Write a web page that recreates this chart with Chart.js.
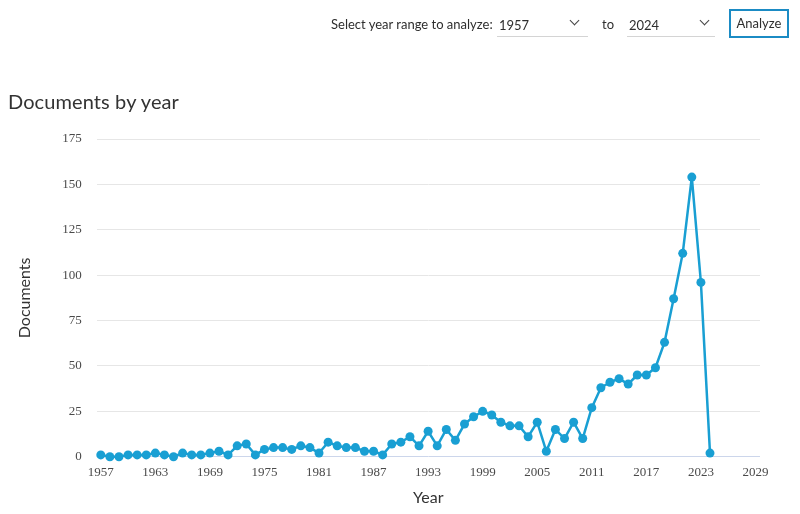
<!DOCTYPE html>
<html>
<head>
<meta charset="utf-8">
<script src="https://cdn.jsdelivr.net/npm/chart.js@4/dist/chart.umd.min.js"></script>
<style>
  html, body { margin: 0; padding: 0; background: #fff; }
  body { width: 800px; height: 514px; position: relative; overflow: hidden; font-family: Lato, "Open Sans", sans-serif; }
  #wrap { position: absolute; left: 0; top: 0; width: 800px; height: 514px; }
  #title { position: absolute; left: 8px; top: 89px; font-size: 20px; color: #333; letter-spacing: 0.1px; }
  .ctl { position: absolute; font-size: 13px; color: #2e2e2e; }
  .sel { position: absolute; border-bottom: 1px solid #d4d4d4; height: 22px; }
  .sel span { position: absolute; left: 2px; top: 3px; font-size: 13px; color: #2e2e2e; }
  .chev { position: absolute; top: 3px; width: 6px; height: 6px; border-right: 1.2px solid #444; border-bottom: 1.2px solid #444; transform: rotate(45deg); }
  #btn { position: absolute; left: 729px; top: 9px; width: 60px; height: 29px; border: 2px solid #1b8bc4; box-sizing: border-box; font-size: 13px; color: #2e2e2e; text-align: center; line-height: 25px; }
</style>
</head>
<body>
<div id="wrap"><canvas id="c" width="800" height="514"></canvas></div>
<div class="ctl" style="left:331px; top:16px;">Select year range to analyze:</div>
<div class="sel" style="left:497px; top:14px; width:91px;"><span>1957</span><div class="chev" style="left:74px;"></div></div>
<div class="ctl" style="left:602px; top:16px;">to</div>
<div class="sel" style="left:627px; top:14px; width:88px;"><span>2024</span><div class="chev" style="left:74px;"></div></div>
<div id="btn">Analyze</div>
<div id="title">Documents by year</div>
<script>
const years = [1957,1958,1959,1960,1961,1962,1963,1964,1965,1966,1967,1968,1969,1970,1971,1972,1973,1974,1975,1976,1977,1978,1979,1980,1981,1982,1983,1984,1985,1986,1987,1988,1989,1990,1991,1992,1993,1994,1995,1996,1997,1998,1999,2000,2001,2002,2003,2004,2005,2006,2007,2008,2009,2010,2011,2012,2013,2014,2015,2016,2017,2018,2019,2020,2021,2022,2023,2024];
const documents = [1,0,0,1,1,1,2,1,0,2,1,1,2,3,1,6,7,1,4,5,5,4,6,5,2,8,6,5,5,3,3,1,7,8,11,6,14,6,15,9,18,22,25,23,19,17,17,11,19,3,15,10,19,10,27,38,41,43,40,45,45,49,63,87,112,154,96,2];
const xTicks = [1957,1963,1969,1975,1981,1987,1993,1999,2005,2011,2017,2023,2029];
const yTicks = [0,25,50,75,100,125,150,175];

const lineColor = '#199fd3';
new Chart(document.getElementById('c'), {
  type: 'line',
  data: {
    datasets: [{
      data: years.map((y, i) => ({x: y, y: documents[i]})),
      borderColor: lineColor,
      backgroundColor: lineColor,
      borderWidth: 2.5,
      borderJoinStyle: 'round',
      borderCapStyle: 'round',
      pointRadius: 4.5,
      pointHoverRadius: 4.5,
      pointBorderWidth: 0,
      tension: 0,
      clip: false
    }]
  },
  options: {
    responsive: false,
    animation: false,
    devicePixelRatio: 1,
    layout: { padding: { left: 0, right: 40, top: 139, bottom: 0 } },
    plugins: { legend: { display: false }, tooltip: { enabled: false } },
    scales: {
      x: {
        type: 'linear',
        min: 1956.55,
        max: 2029.5,
        afterBuildTicks: (s) => { s.ticks = xTicks.map(v => ({value: v})); },
        afterFit: (s) => { s.height = 57.3; },
        grid: { display: false, drawTicks: false },
        border: { display: false },
        ticks: {
          padding: 8,
          maxRotation: 0,
          autoSkip: false,
          color: '#4a4a4a',
          font: { family: 'Liberation Serif', size: 13 },
          callback: (v) => String(v)
        },
        title: {
          display: true, text: 'Year', color: '#333',
          font: { family: 'Lato', size: 16 },
          padding: { top: 0, bottom: 7 }
        }
      },
      y: {
        min: 0,
        max: 175,
        afterBuildTicks: (s) => { s.ticks = yTicks.map(v => ({value: v})); },
        afterFit: (s) => { s.width = 96.7; },
        grid: {
          drawTicks: false,
          color: (ctx) => ctx.tick && ctx.tick.value === 0 ? '#ccd6eb' : '#e6e6e6',
          lineWidth: 1
        },
        border: { display: false },
        ticks: {
          padding: 15,
          color: '#4a4a4a',
          font: { family: 'Liberation Serif', size: 13 }
        },
        title: {
          display: true, text: 'Documents', color: '#333',
          font: { family: 'Lato', size: 16 },
          padding: { top: 15, bottom: 0 }
        }
      }
    }
  }
});
</script>
</body>
</html>
